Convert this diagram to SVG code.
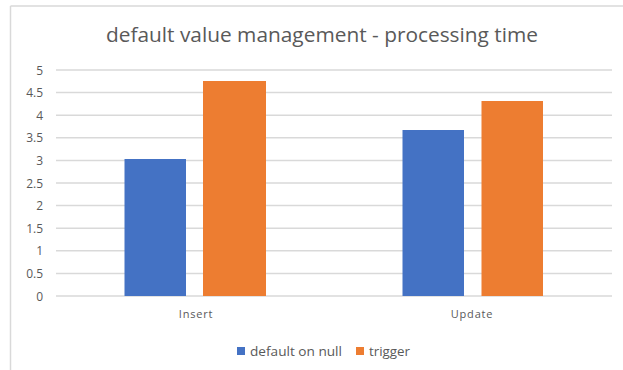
<svg xmlns="http://www.w3.org/2000/svg" width="623" height="370" viewBox="0 0 623 370">
<style>
text{font-family:"Open Sans","Liberation Sans",sans-serif;fill:#595959}
.grid{stroke:#d9d9d9;stroke-width:1.5}
.ylab{font-size:12px;text-anchor:end}
.cat{font-size:11px;text-anchor:middle;letter-spacing:0.8px}
.leg{font-size:13.5px}
.blue{fill:#4472c4}
.orange{fill:#ed7d31}
</style>
<rect width="623" height="370" fill="#ffffff"/>
<g id="frame" stroke="#d9d9d9" stroke-width="1.5" fill="none">
<line x1="10.5" y1="6" x2="623" y2="6"/>
<line x1="10.5" y1="6" x2="10.5" y2="370"/>
</g>
<text id="title" x="322" y="42" font-size="20.5" text-anchor="middle" textLength="432" lengthAdjust="spacingAndGlyphs">default value management - processing time</text>
<g id="gridlines">
<line class="grid" x1="56" y1="70" x2="612" y2="70"/>
<line class="grid" x1="56" y1="92.6" x2="612" y2="92.6"/>
<line class="grid" x1="56" y1="115.2" x2="612" y2="115.2"/>
<line class="grid" x1="56" y1="137.8" x2="612" y2="137.8"/>
<line class="grid" x1="56" y1="160.4" x2="612" y2="160.4"/>
<line class="grid" x1="56" y1="183" x2="612" y2="183"/>
<line class="grid" x1="56" y1="205.6" x2="612" y2="205.6"/>
<line class="grid" x1="56" y1="228.2" x2="612" y2="228.2"/>
<line class="grid" x1="56" y1="250.8" x2="612" y2="250.8"/>
<line class="grid" x1="56" y1="273.4" x2="612" y2="273.4"/>
<line class="grid" x1="56" y1="296" x2="612" y2="296"/>
</g>
<g id="yaxis-labels">
<text class="ylab" x="43" y="74.5">5</text>
<text class="ylab" x="43" y="97">4.5</text>
<text class="ylab" x="43" y="119.5">4</text>
<text class="ylab" x="43" y="142">3.5</text>
<text class="ylab" x="43" y="164.5">3</text>
<text class="ylab" x="43" y="187.5">2.5</text>
<text class="ylab" x="43" y="210">2</text>
<text class="ylab" x="43" y="232.5">1.5</text>
<text class="ylab" x="43" y="255">1</text>
<text class="ylab" x="43" y="277.5">0.5</text>
<text class="ylab" x="43" y="300.5">0</text>
</g>
<g id="bar-insert-default">
<rect class="blue" x="124.5" y="159" width="61.5" height="137"/>
</g>
<g id="bar-insert-trigger">
<rect class="orange" x="203" y="81" width="63" height="215"/>
</g>
<g id="bar-update-default">
<rect class="blue" x="402.5" y="130" width="61.5" height="166"/>
</g>
<g id="bar-update-trigger">
<rect class="orange" x="481.5" y="101" width="61.5" height="195"/>
</g>
<g id="categories">
<text class="cat" x="196" y="318">Insert</text>
<text class="cat" x="472" y="318">Update</text>
</g>
<g id="legend">
<rect class="blue" x="237" y="347" width="8" height="8"/>
<text class="leg" x="250" y="356" textLength="92" lengthAdjust="spacingAndGlyphs">default on null</text>
<rect class="orange" x="356" y="347" width="8" height="8"/>
<text class="leg" x="369" y="356" textLength="41" lengthAdjust="spacingAndGlyphs">trigger</text>
</g>
</svg>
